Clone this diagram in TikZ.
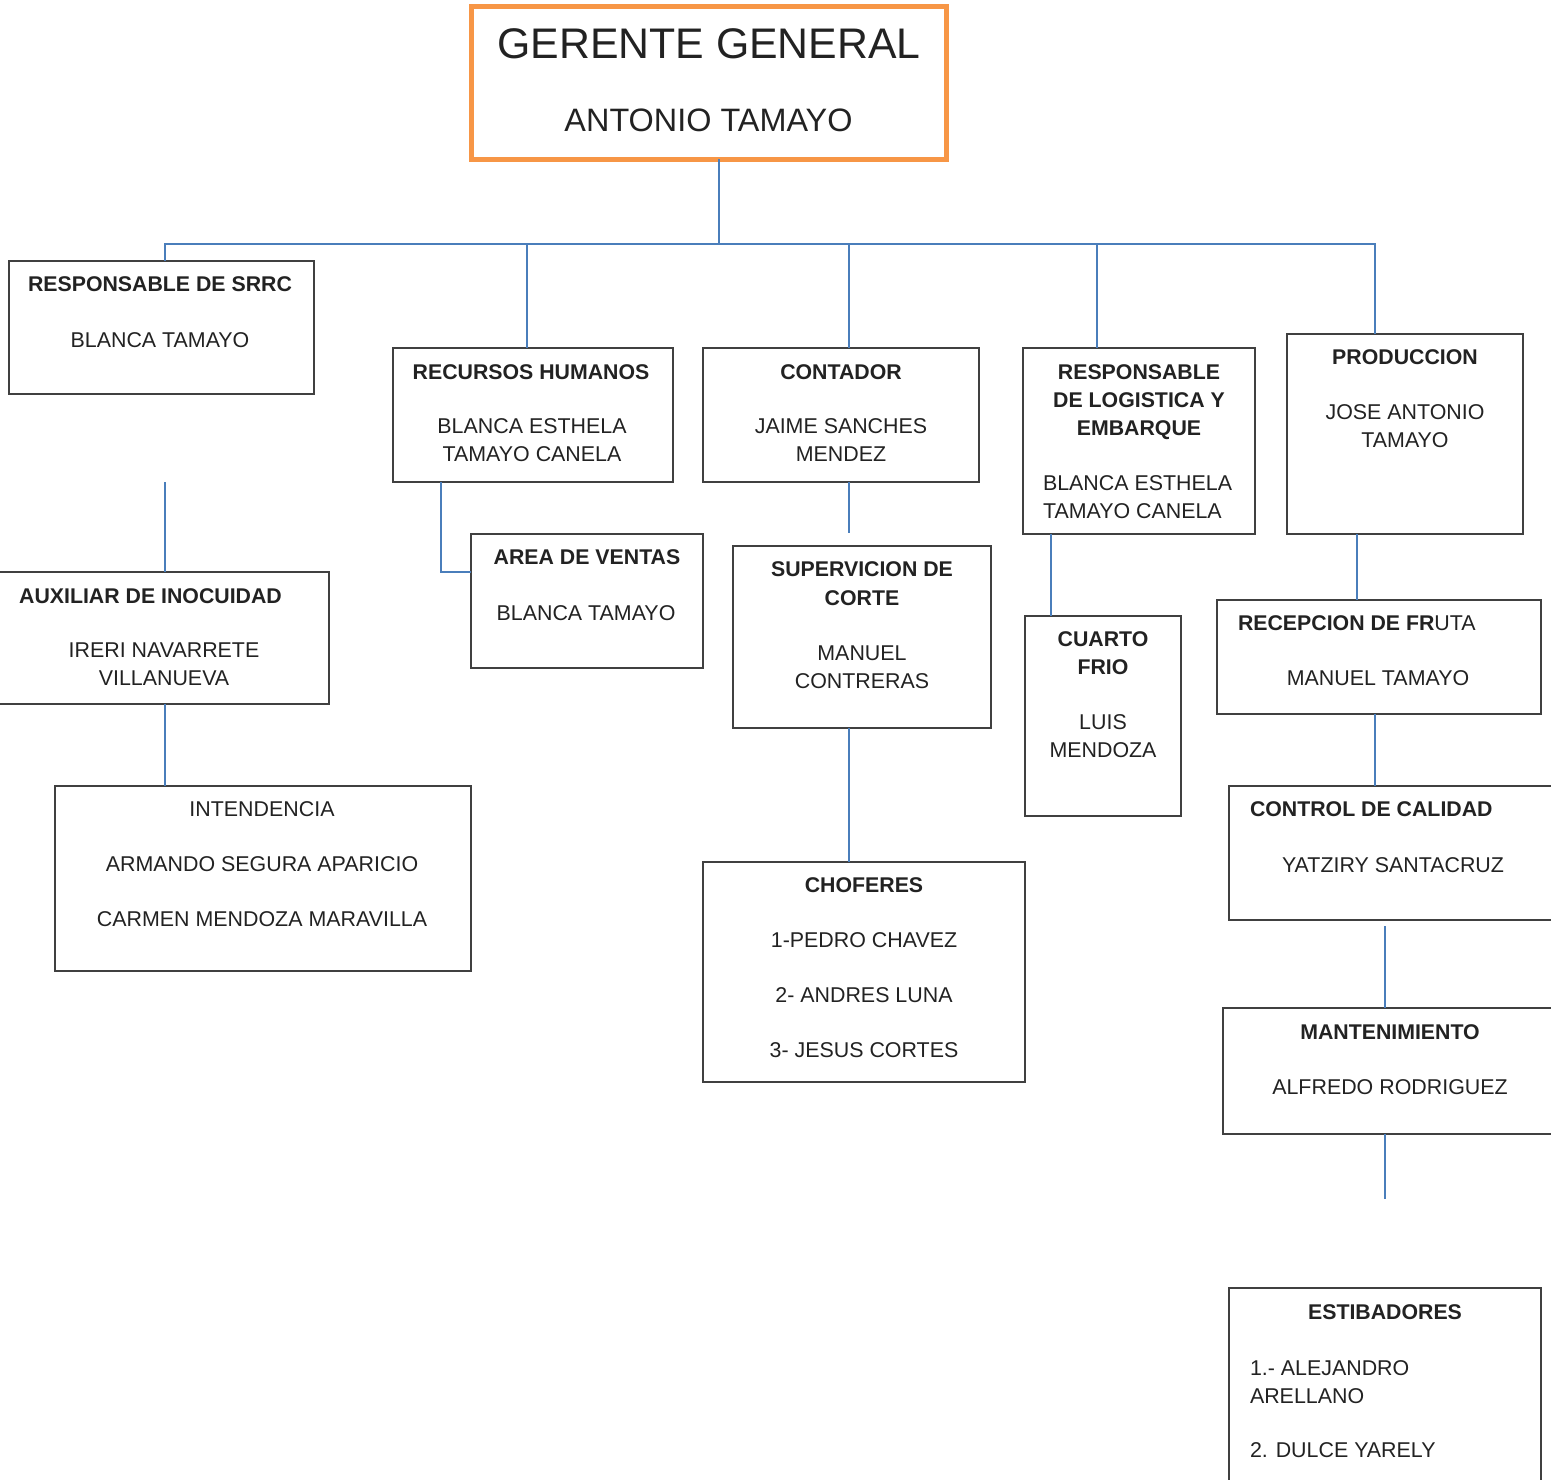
\documentclass[tikz,border=0pt]{standalone}
\usepackage{fontspec}
\setmainfont{Liberation Sans}
\definecolor{linkc}{HTML}{4A7EBB}
\definecolor{orangec}{HTML}{F79646}
\definecolor{boxc}{HTML}{404040}
\definecolor{textc}{HTML}{222222}
\newcommand\B[5]{\node[box, minimum width={(#4-#2)*0.5pt}, minimum height={(#5-#3)*0.5pt}] (#1) at ({(#2+#4)/2},{(#3+#5)/2}) {};}
\newcommand\T[5][]{\node[txt,#1] (#2) at (#3,#4) {#5};}
\begin{document}
\begin{tikzpicture}[x=0.5pt,y=-0.5pt,
  box/.style={draw=boxc, line width=0.75pt, inner sep=0pt, outer sep=0pt, rectangle},
  gbox/.style={draw=orangec, line width=2.5pt, inner sep=0pt, outer sep=0pt, rectangle},
  link/.style={draw=linkc, line width=1pt},
  txt/.style={anchor=base, inner sep=0pt, outer sep=0pt, text=textc, font=\fontsize{10.7}{14}\selectfont},
  hd/.style={font=\fontsize{10.65}{14}\selectfont\bfseries},
  lft/.style={anchor=base west},
  big/.style={font=\fontsize{21.4}{25}\selectfont},
  mid/.style={font=\fontsize{16.2}{19}\selectfont}]
\useasboundingbox (0,0) rectangle (1551,1479);
\clip (0,0) rectangle (1551,1479);

% column coordinates
\coordinate (bus) at (0,244);
\coordinate (x165) at (165,0);
\coordinate (x441) at (441,0);
\coordinate (x527) at (527,0);
\coordinate (x719) at (719,0);
\coordinate (x849) at (849,0);
\coordinate (x1051) at (1051,0);
\coordinate (x1097) at (1097,0);
\coordinate (x1357) at (1357,0);
\coordinate (x1375) at (1375,0);
\coordinate (x1385) at (1385,0);

% Gerente
\node[gbox, minimum width={(946.5-471)*0.5pt}, minimum height={(159-6.5)*0.5pt}] (gg) at (708.75,82.75) {};
\T[big]{ggA}{709}{58}{GERENTE GENERAL}
\T[mid]{ggB}{708.5}{131}{ANTONIO TAMAYO}

% Boxes and texts
\B{srrc}{9}{261}{314}{394}
\T[hd]{srrcA}{160}{291.5}{RESPONSABLE DE SRRC}
\T{srrcB}{160}{347}{BLANCA TAMAYO}

\B{aux}{-3}{572}{329}{704}
\T[hd]{auxA}{150.5}{603.5}{AUXILIAR DE INOCUIDAD}
\T{auxB}{164}{657.5}{IRERI NAVARRETE}
\T{auxC}{164}{685.5}{VILLANUEVA}

\B{int}{55}{786}{471}{971}
\T{intA}{262}{816.5}{INTENDENCIA}
\T{intB}{262}{871}{ARMANDO SEGURA APARICIO}
\T{intC}{262}{926}{CARMEN MENDOZA MARAVILLA}

\B{rh}{393}{348}{673}{482}
\T[hd]{rhA}{531}{379.5}{RECURSOS HUMANOS}
\T{rhB}{532}{433.5}{BLANCA ESTHELA}
\T{rhC}{532}{461.5}{TAMAYO CANELA}

\B{av}{471}{534}{703}{668}
\T[hd]{avA}{587}{564.5}{AREA DE VENTAS}
\T{avB}{586}{620.5}{BLANCA TAMAYO}

\B{cont}{703}{348}{979}{482}
\T[hd]{contA}{841}{379.5}{CONTADOR}
\T{contB}{841}{433.5}{JAIME SANCHES}
\T{contC}{841}{461.5}{MENDEZ}

\B{sup}{733}{546}{991}{728}
\T[hd]{supA}{862}{576.5}{SUPERVICION DE}
\T[hd]{supB}{862}{605}{CORTE}
\T{supC}{862}{660.5}{MANUEL}
\T{supD}{862}{688.5}{CONTRERAS}

\B{chof}{703}{862}{1025}{1082}
\T[hd]{chA}{864}{892.5}{CHOFERES}
\T{chB}{864}{947.5}{1-PEDRO CHAVEZ}
\T{chC}{864}{1002.5}{2- ANDRES LUNA}
\T{chD}{864}{1057.5}{3- JESUS CORTES}

\B{log}{1023}{348}{1255}{534}
\T[hd]{logA}{1139}{379.5}{RESPONSABLE}
\T[hd]{logB}{1139}{407.5}{DE LOGISTICA Y}
\T[hd]{logC}{1139}{435.5}{EMBARQUE}
\T[lft]{logD}{1043}{490.5}{BLANCA ESTHELA}
\T[lft]{logE}{1043}{518.5}{TAMAYO CANELA}

\B{cf}{1025}{616}{1181}{816}
\T[hd]{cfA}{1103}{646.5}{CUARTO}
\T[hd]{cfB}{1103}{674.5}{FRIO}
\T{cfC}{1103}{729.5}{LUIS}
\T{cfD}{1103}{757.5}{MENDOZA}

\B{prod}{1287}{334}{1523}{534}
\T[hd]{prA}{1405}{364.5}{PRODUCCION}
\T{prB}{1405}{419.5}{JOSE ANTONIO}
\T{prC}{1405}{447.5}{TAMAYO}

\B{rec}{1217}{600}{1541}{714}
\T[lft]{recA}{1238}{630.5}{\textbf{\fontsize{10.65}{14}\selectfont RECEPCION DE FR}UTA}
\T{recB}{1378}{685.5}{MANUEL TAMAYO}

\B{cc}{1229}{786}{1565}{920}
\T[hd,lft]{ccA}{1250}{816.5}{CONTROL DE CALIDAD}
\T{ccB}{1393}{872.5}{YATZIRY SANTACRUZ}

\B{mant}{1223}{1008}{1565}{1134}
\T[hd]{mA}{1390}{1039.5}{MANTENIMIENTO}
\T{mB}{1390}{1094.5}{ALFREDO RODRIGUEZ}

\B{est}{1229}{1288}{1541}{1500}
\T[hd]{eA}{1385}{1319}{ESTIBADORES}
\T[lft]{eB}{1250}{1375}{1.- ALEJANDRO}
\T[lft]{eC}{1250}{1403}{ARELLANO}
\T[lft]{eD}{1250}{1457}{2. DULCE YARELY}

% connectors
\coordinate (g1) at (165,482);
\coordinate (g2) at (849,533);
\coordinate (g3) at (1385,926);
\coordinate (g4) at (1385,1199);
\coordinate (avj) at (441,572);

\draw[link] (x719 |- gg.south) -- (x719 |- bus);
\draw[link] (x165 |- srrc.north) -- (x165 |- bus) -- (x1375 |- bus) -- (x1375 |- prod.north);
\draw[link] (x527 |- bus) -- (x527 |- rh.north);
\draw[link] (x849 |- bus) -- (x849 |- cont.north);
\draw[link] (x1097 |- bus) -- (x1097 |- log.north);
\draw[link] (g1) -- (g1 |- aux.north);
\draw[link] (x165 |- aux.south) -- (x165 |- int.north);
\draw[link] (x441 |- rh.south) -- (avj) -- (avj -| av.west);
\draw[link] (x849 |- cont.south) -- (g2);
\draw[link] (x849 |- sup.south) -- (x849 |- chof.north);
\draw[link] (x1051 |- log.south) -- (x1051 |- cf.north);
\draw[link] (x1357 |- prod.south) -- (x1357 |- rec.north);
\draw[link] (x1375 |- rec.south) -- (x1375 |- cc.north);
\draw[link] (g3) -- (x1385 |- mant.north);
\draw[link] (x1385 |- mant.south) -- (g4);
\end{tikzpicture}
\end{document}
